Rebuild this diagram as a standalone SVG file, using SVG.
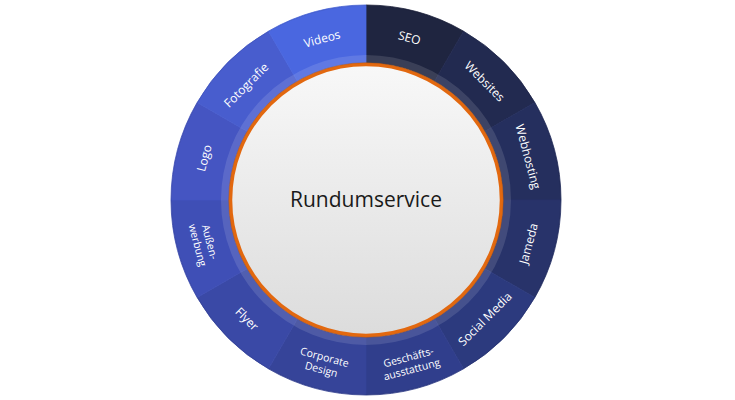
<svg xmlns="http://www.w3.org/2000/svg" width="735" height="400" viewBox="0 0 735 400">
  <defs>
    <linearGradient id="core" x1="0" y1="0" x2="0" y2="1">
      <stop offset="0" stop-color="#f8f8f8"/>
      <stop offset="1" stop-color="#dcdcdc"/>
    </linearGradient>
    <style>
      .seg { stroke-width: 0.8; stroke-linejoin: round; }
      .lbl { font-family: "Open Sans", "Liberation Sans", sans-serif; font-size: 12px; fill: #ffffff; text-anchor: middle; dominant-baseline: central; }
      .lbl2 { font-size: 10.5px; }
      .center { font-family: "Open Sans", "Liberation Sans", sans-serif; font-size: 21px; fill: #1a1a1a; text-anchor: middle; dominant-baseline: central; }
    </style>
  </defs>
  <rect width="735" height="400" fill="#ffffff"/>
  <g id="connectors"></g>
  <g id="seo">
    <path class="seg" fill="#1f2540" stroke="#1f2540" d="M366 5 A195 195 0 0 1 463.5 31.13 L434.5 81.35 A137 137 0 0 0 366 63 Z"/>
    <text class="lbl" transform="translate(409.5 37.7) rotate(15)">SEO</text>
  </g>
  <g id="websites">
    <path class="seg" fill="#222a50" stroke="#222a50" d="M463.5 31.13 A195 195 0 0 1 534.87 102.5 L484.65 131.5 A137 137 0 0 0 434.5 81.35 Z"/>
    <text class="lbl" transform="translate(484.8 81.2) rotate(45)">Websites</text>
  </g>
  <g id="webhosting">
    <path class="seg" fill="#252f5e" stroke="#252f5e" d="M534.87 102.5 A195 195 0 0 1 561 200 L503 200 A137 137 0 0 0 484.65 131.5 Z"/>
    <text class="lbl" transform="translate(528.3 156.5) rotate(75)">Webhosting</text>
  </g>
  <g id="jameda">
    <path class="seg" fill="#28336a" stroke="#28336a" d="M561 200 A195 195 0 0 1 534.87 297.5 L484.65 268.5 A137 137 0 0 0 503 200 Z"/>
    <text class="lbl" transform="translate(528.3 243.5) rotate(-75)">Jameda</text>
  </g>
  <g id="social-media">
    <path class="seg" fill="#2c3a7e" stroke="#2c3a7e" d="M534.87 297.5 A195 195 0 0 1 463.5 368.87 L434.5 318.65 A137 137 0 0 0 484.65 268.5 Z"/>
    <text class="lbl" transform="translate(484.8 318.8) rotate(-45)">Social Media</text>
  </g>
  <g id="geschaeftsausstattung">
    <path class="seg" fill="#303e8c" stroke="#303e8c" d="M463.5 368.87 A195 195 0 0 1 366 395 L366 337 A137 137 0 0 0 434.5 318.65 Z"/>
    <text class="lbl lbl2" transform="translate(410 363) rotate(-15)"><tspan x="0" dy="-0.6em">Geschäfts-</tspan><tspan x="0" dy="1.2em">ausstattung</tspan></text>
  </g>
  <g id="corporate-design">
    <path class="seg" fill="#364499" stroke="#364499" d="M366 395 A195 195 0 0 1 268.5 368.87 L297.5 318.65 A137 137 0 0 0 366 337 Z"/>
    <text class="lbl lbl2" transform="translate(323 363) rotate(15)"><tspan x="0" dy="-0.6em">Corporate</tspan><tspan x="0" dy="1.2em">Design</tspan></text>
  </g>
  <g id="flyer">
    <path class="seg" fill="#3a49a6" stroke="#3a49a6" d="M268.5 368.87 A195 195 0 0 1 197.13 297.5 L247.35 268.5 A137 137 0 0 0 297.5 318.65 Z"/>
    <text class="lbl" transform="translate(247.2 318.8) rotate(45)">Flyer</text>
  </g>
  <g id="aussenwerbung">
    <path class="seg" fill="#3f4fb6" stroke="#3f4fb6" d="M197.13 297.5 A195 195 0 0 1 171 200 L229 200 A137 137 0 0 0 247.35 268.5 Z"/>
    <text class="lbl lbl2" transform="translate(204 243.5) rotate(75)"><tspan x="0" dy="-0.6em">Außen-</tspan><tspan x="0" dy="1.2em">werbung</tspan></text>
  </g>
  <g id="logo">
    <path class="seg" fill="#4555c2" stroke="#4555c2" d="M171 200 A195 195 0 0 1 197.13 102.5 L247.35 131.5 A137 137 0 0 0 229 200 Z"/>
    <text class="lbl" transform="translate(204 158) rotate(-75)">Logo</text>
  </g>
  <g id="fotografie">
    <path class="seg" fill="#485dce" stroke="#485dce" d="M197.13 102.5 A195 195 0 0 1 268.5 31.13 L297.5 81.35 A137 137 0 0 0 247.35 131.5 Z"/>
    <text class="lbl" transform="translate(246 85) rotate(-45)">Fotografie</text>
  </g>
  <g id="videos">
    <path class="seg" fill="#4a67e0" stroke="#4a67e0" d="M268.5 31.13 A195 195 0 0 1 366 5 L366 63 A137 137 0 0 0 297.5 81.35 Z"/>
    <text class="lbl" transform="translate(322 38.5) rotate(-15)">Videos</text>
  </g>
  <g id="ring-band">
    <circle cx="366" cy="200" r="141" fill="none" stroke="#ffffff" stroke-opacity="0.12" stroke-width="8"/>
    <circle cx="366" cy="200" r="194.8" fill="none" stroke="#000000" stroke-opacity="0.08" stroke-width="1"/>
  </g>
  <g id="rundumservice">
    <circle cx="366" cy="200" r="135.5" fill="url(#core)" stroke="#e2680f" stroke-width="3.5"/>
    <circle cx="366" cy="200" r="137.3" fill="none" stroke="#b24f08" stroke-opacity="0.5" stroke-width="0.8"/>
    <text class="center" x="366" y="199">Rundumservice</text>
  </g>
</svg>
